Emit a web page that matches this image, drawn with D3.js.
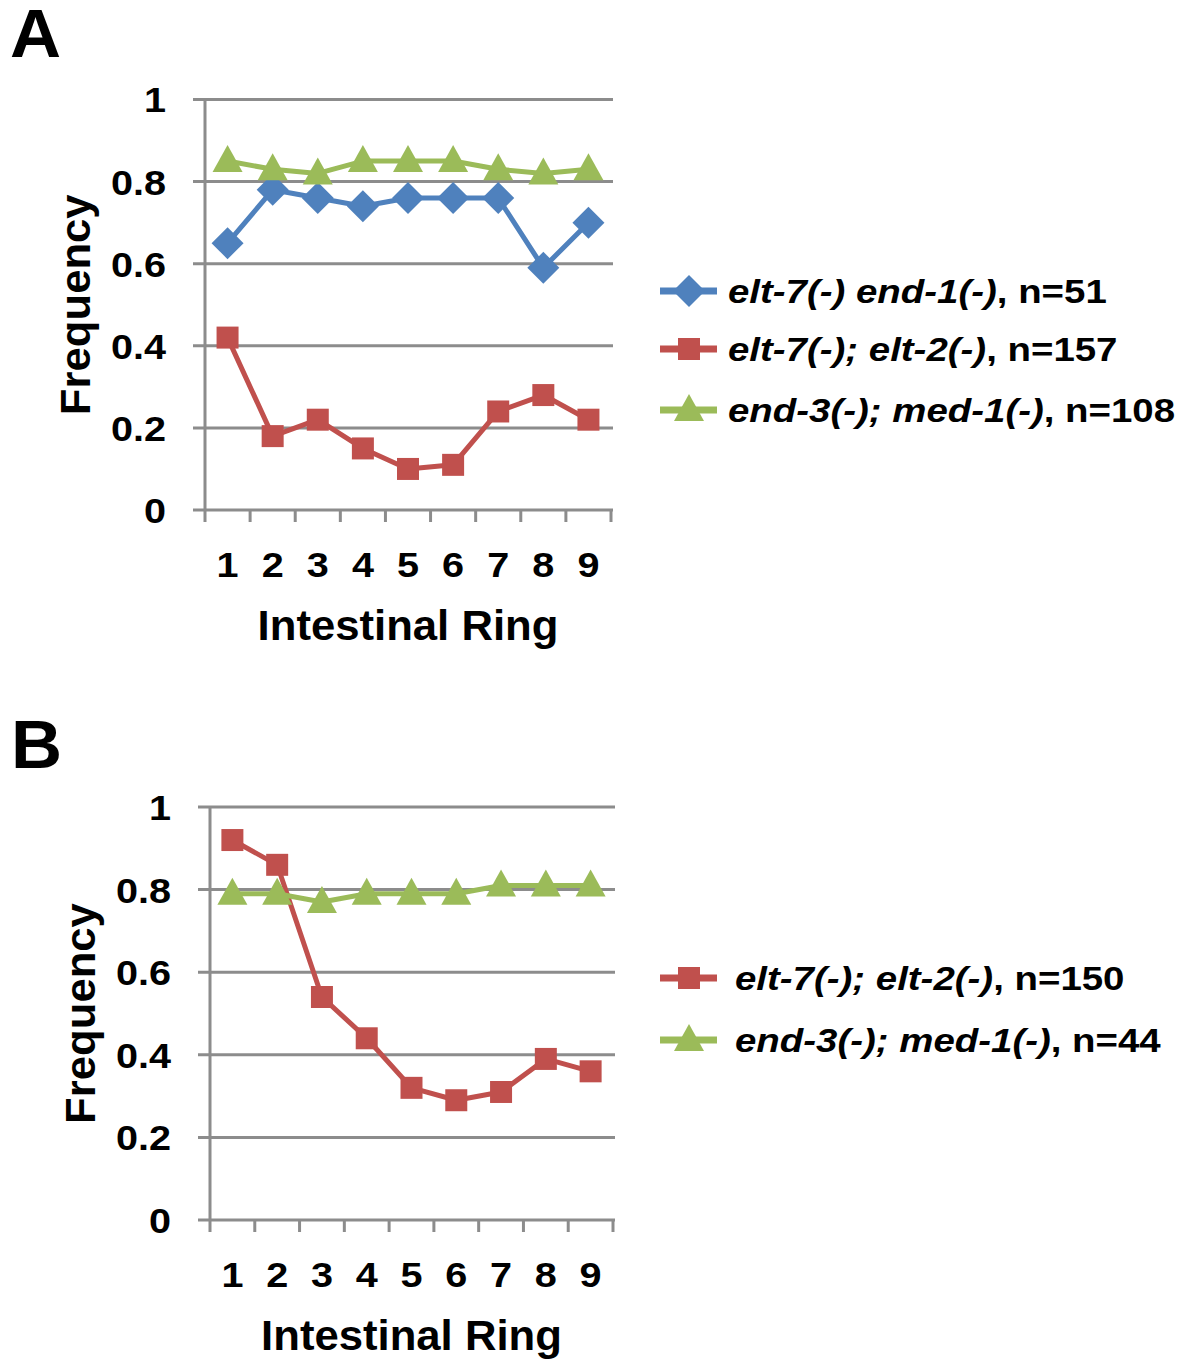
<!DOCTYPE html>
<html><head><meta charset="utf-8">
<script src="https://cdn.jsdelivr.net/npm/d3@7"></script>
<style>body{margin:0;background:#fff}text{font-family:"Liberation Sans",Arial,sans-serif;font-weight:bold;fill:#000}</style>
</head><body>
<svg id="c" width="1185" height="1359"></svg>
<script>
// ---- data ----
const rings = [1,2,3,4,5,6,7,8,9];
const yTicks = [0,0.2,0.4,0.6,0.8,1];
const yTickLabels = ["0","0.2","0.4","0.6","0.8","1"];
const xTitle = "Intestinal Ring";
const yTitle = "Frequency";
// Panel A
const aElt7End1 = [0.65,0.78,0.76,0.74,0.76,0.76,0.76,0.59,0.70];
const aElt7Elt2 = [0.42,0.18,0.22,0.15,0.10,0.11,0.24,0.28,0.22];
const aEnd3Med1 = [0.85,0.83,0.82,0.85,0.85,0.85,0.83,0.82,0.83];
// Panel B
const bElt7Elt2 = [0.92,0.86,0.54,0.44,0.32,0.29,0.31,0.39,0.36];
const bEnd3Med1 = [0.79,0.79,0.77,0.79,0.79,0.79,0.81,0.81,0.81];
// legend names
const nameElt7End1 = "elt-7(-) end-1(-)";
const nameElt7Elt2 = "elt-7(-); elt-2(-)";
const nameEnd3Med1 = "end-3(-); med-1(-)";

const C = {blue:"#4F81BD", red:"#C0504D", green:"#9BBB59", grid:"#8C8C8C"};

const panels = [
  {letter:"A", lx:10, ly:57, x0:205, x1:611, yTop:99.5, yBot:510, legX:660, legTextX:728, legY:[291,349,410],
   series:[
     {vals:aElt7End1, color:C.blue, shape:"diamond", name:nameElt7End1, n:", n=51"},
     {vals:aElt7Elt2, color:C.red, shape:"square", name:nameElt7Elt2, n:", n=157"},
     {vals:aEnd3Med1, color:C.green, shape:"triangle", name:nameEnd3Med1, n:", n=108"}]},
  {letter:"B", lx:11, ly:768, x0:210, x1:613, yTop:807, yBot:1220, legX:660, legTextX:735, legY:[978,1040],
   series:[
     {vals:bElt7Elt2, color:C.red, shape:"square", name:nameElt7Elt2, n:", n=150"},
     {vals:bEnd3Med1, color:C.green, shape:"triangle", name:nameEnd3Med1, n:", n=44"}]}
];

function markerPath(shape){
  if(shape==="diamond") return "M0,-16L16,0L0,16L-16,0Z";
  if(shape==="square") return "M-11,-11H11V11H-11Z";
  return "M0,-16L15,11H-15Z";
}

const svg = d3.select("#c");

panels.forEach(p=>{
  const g = svg.append("g");
  const x = d3.scaleBand().domain(rings).range([p.x0,p.x1]).padding(0);
  const y = d3.scaleLinear().domain([0,1]).range([p.yBot,p.yTop]);

  g.append("text").attr("transform",`translate(${p.lx},${p.ly}) scale(1.04,1)`).attr("font-size",68).text(p.letter);

  // gridlines
  g.selectAll(".grid").data(yTicks).enter().append("line")
    .attr("x1",p.x0-12).attr("x2",p.x1+2)
    .attr("y1",d=>y(d)).attr("y2",d=>y(d))
    .attr("stroke",C.grid).attr("stroke-width",3);
  // y axis line
  g.append("line").attr("x1",p.x0).attr("x2",p.x0).attr("y1",y(1)).attr("y2",y(0)+12)
    .attr("stroke",C.grid).attr("stroke-width",3);
  // x ticks at band boundaries
  const bounds = rings.map(r=>x(r)+x.bandwidth());
  g.selectAll(".xt").data(bounds).enter().append("line")
    .attr("x1",d=>d).attr("x2",d=>d).attr("y1",y(0)).attr("y2",y(0)+12)
    .attr("stroke",C.grid).attr("stroke-width",3);
  // y tick labels
  g.selectAll(".yl").data(yTicks).enter().append("text")
    .attr("transform",d=>`translate(${p.x0-39},${y(d)}) scale(1.1,1)`).attr("dy","0.36em")
    .attr("text-anchor","end").attr("font-size",36)
    .text((d,i)=>yTickLabels[i]);
  // x tick labels
  g.selectAll(".xl").data(rings).enter().append("text")
    .attr("transform",d=>`translate(${x(d)+x.bandwidth()/2},${y(0)+67}) scale(1.1,1)`)
    .attr("text-anchor","middle").attr("font-size",36).text(d=>d);
  // titles
  g.append("text").attr("transform",`translate(${(p.x0+p.x1)/2},${y(0)+130}) scale(1.04,1)`)
    .attr("text-anchor","middle").attr("font-size",42).text(xTitle);
  g.append("text").attr("transform",`translate(${p.x0-115},${(p.yTop+p.yBot)/2}) rotate(-90) scale(1.04,1)`)
    .attr("text-anchor","middle").attr("font-size",42).text(yTitle);

  // series
  const line = d3.line().x((d,i)=>x(rings[i])+x.bandwidth()/2).y(d=>y(d));
  p.series.forEach(s=>{
    g.append("path").attr("d",line(s.vals)).attr("fill","none")
      .attr("stroke",s.color).attr("stroke-width",5).attr("stroke-linejoin","round");
    g.selectAll(null).data(s.vals).enter().append("path")
      .attr("transform",(d,i)=>`translate(${x(rings[i])+x.bandwidth()/2},${y(d)})`)
      .attr("d",markerPath(s.shape)).attr("fill",s.color);
  });

  // legend
  p.series.forEach((s,i)=>{
    const ly = p.legY[i];
    g.append("line").attr("x1",p.legX).attr("x2",p.legX+57).attr("y1",ly).attr("y2",ly)
      .attr("stroke",s.color).attr("stroke-width",7);
    g.append("path").attr("transform",`translate(${p.legX+29},${ly})`)
      .attr("d",markerPath(s.shape)).attr("fill",s.color);
    const t = g.append("text").attr("transform",`translate(${p.legTextX},${ly}) scale(1.13,1)`)
      .attr("dy","0.36em").attr("font-size",34);
    t.append("tspan").attr("font-style","italic").text(s.name);
    t.append("tspan").text(s.n);
  });
});
</script>
</body></html>
